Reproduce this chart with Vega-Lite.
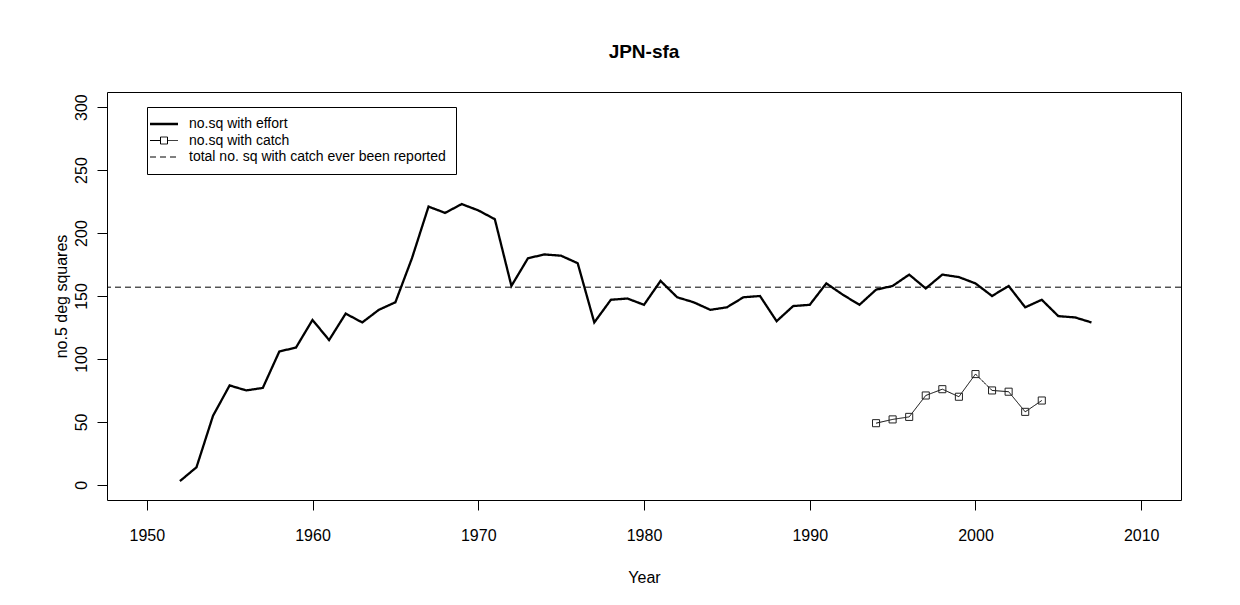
{
  "$schema": "https://vega.github.io/schema/vega-lite/v6.json",
  "width": 1074,
  "height": 408,
  "autosize": {"type": "none"},
  "padding": {"left": 107, "top": 92, "right": 59, "bottom": 105},
  "background": "white",
  "config": {
    "font": "Liberation Sans",
    "view": {"stroke": "black", "strokeWidth": 1},
    "axis": {"grid": false, "domain": false, "tickColor": "black", "tickSize": 10, "labelColor": "black", "titleColor": "black", "labelFontSize": 16, "titleFontSize": 16, "titleFontWeight": "normal"}
  },
  "title": {"text": "JPN-sfa", "fontSize": 19, "fontWeight": "bold", "color": "black", "anchor": "middle", "offset": 30},
  "datasets": {
    "d": [
      {"series": "no.sq with effort", "Year": 1952, "n": 3},
      {"series": "no.sq with effort", "Year": 1953, "n": 14},
      {"series": "no.sq with effort", "Year": 1954, "n": 55},
      {"series": "no.sq with effort", "Year": 1955, "n": 79},
      {"series": "no.sq with effort", "Year": 1956, "n": 75},
      {"series": "no.sq with effort", "Year": 1957, "n": 77},
      {"series": "no.sq with effort", "Year": 1958, "n": 106},
      {"series": "no.sq with effort", "Year": 1959, "n": 109},
      {"series": "no.sq with effort", "Year": 1960, "n": 131},
      {"series": "no.sq with effort", "Year": 1961, "n": 115},
      {"series": "no.sq with effort", "Year": 1962, "n": 136},
      {"series": "no.sq with effort", "Year": 1963, "n": 129},
      {"series": "no.sq with effort", "Year": 1964, "n": 139},
      {"series": "no.sq with effort", "Year": 1965, "n": 145},
      {"series": "no.sq with effort", "Year": 1966, "n": 180},
      {"series": "no.sq with effort", "Year": 1967, "n": 221},
      {"series": "no.sq with effort", "Year": 1968, "n": 216},
      {"series": "no.sq with effort", "Year": 1969, "n": 223},
      {"series": "no.sq with effort", "Year": 1970, "n": 218},
      {"series": "no.sq with effort", "Year": 1971, "n": 211},
      {"series": "no.sq with effort", "Year": 1972, "n": 158},
      {"series": "no.sq with effort", "Year": 1973, "n": 180},
      {"series": "no.sq with effort", "Year": 1974, "n": 183},
      {"series": "no.sq with effort", "Year": 1975, "n": 182},
      {"series": "no.sq with effort", "Year": 1976, "n": 176},
      {"series": "no.sq with effort", "Year": 1977, "n": 129},
      {"series": "no.sq with effort", "Year": 1978, "n": 147},
      {"series": "no.sq with effort", "Year": 1979, "n": 148},
      {"series": "no.sq with effort", "Year": 1980, "n": 143},
      {"series": "no.sq with effort", "Year": 1981, "n": 162},
      {"series": "no.sq with effort", "Year": 1982, "n": 149},
      {"series": "no.sq with effort", "Year": 1983, "n": 145},
      {"series": "no.sq with effort", "Year": 1984, "n": 139},
      {"series": "no.sq with effort", "Year": 1985, "n": 141},
      {"series": "no.sq with effort", "Year": 1986, "n": 149},
      {"series": "no.sq with effort", "Year": 1987, "n": 150},
      {"series": "no.sq with effort", "Year": 1988, "n": 130},
      {"series": "no.sq with effort", "Year": 1989, "n": 142},
      {"series": "no.sq with effort", "Year": 1990, "n": 143},
      {"series": "no.sq with effort", "Year": 1991, "n": 160},
      {"series": "no.sq with effort", "Year": 1992, "n": 151},
      {"series": "no.sq with effort", "Year": 1993, "n": 143},
      {"series": "no.sq with effort", "Year": 1994, "n": 155},
      {"series": "no.sq with effort", "Year": 1995, "n": 158},
      {"series": "no.sq with effort", "Year": 1996, "n": 167},
      {"series": "no.sq with effort", "Year": 1997, "n": 156},
      {"series": "no.sq with effort", "Year": 1998, "n": 167},
      {"series": "no.sq with effort", "Year": 1999, "n": 165},
      {"series": "no.sq with effort", "Year": 2000, "n": 160},
      {"series": "no.sq with effort", "Year": 2001, "n": 150},
      {"series": "no.sq with effort", "Year": 2002, "n": 158},
      {"series": "no.sq with effort", "Year": 2003, "n": 141},
      {"series": "no.sq with effort", "Year": 2004, "n": 147},
      {"series": "no.sq with effort", "Year": 2005, "n": 134},
      {"series": "no.sq with effort", "Year": 2006, "n": 133},
      {"series": "no.sq with effort", "Year": 2007, "n": 129},
      {"series": "no.sq with catch", "Year": 1994, "n": 49},
      {"series": "no.sq with catch", "Year": 1995, "n": 52},
      {"series": "no.sq with catch", "Year": 1996, "n": 54},
      {"series": "no.sq with catch", "Year": 1997, "n": 71},
      {"series": "no.sq with catch", "Year": 1998, "n": 76},
      {"series": "no.sq with catch", "Year": 1999, "n": 70},
      {"series": "no.sq with catch", "Year": 2000, "n": 88},
      {"series": "no.sq with catch", "Year": 2001, "n": 75},
      {"series": "no.sq with catch", "Year": 2002, "n": 74},
      {"series": "no.sq with catch", "Year": 2003, "n": 58},
      {"series": "no.sq with catch", "Year": 2004, "n": 67},
      {"series": "total no. sq with catch ever been reported", "n": 157}
    ]
  },
  "data": {"name": "d"},
  "encoding": {
    "x": {"field": "Year", "type": "quantitative", "scale": {"domain": [1947.6, 2012.4], "nice": false, "zero": false},
          "axis": {"values": [1950, 1960, 1970, 1980, 1990, 2000, 2010], "format": "d", "labelPadding": 17, "title": "Year", "titlePadding": 26}},
    "y": {"field": "n", "type": "quantitative", "scale": {"domain": [-12, 312], "nice": false, "zero": false},
          "axis": {"values": [0, 50, 100, 150, 200, 250, 300], "labelAngle": -90, "labelPadding": 8, "title": "no.5 deg squares", "titlePadding": 4}}
  },
  "layer": [
    {
      "transform": [{"filter": "datum.series == 'no.sq with effort'"}],
      "mark": {"type": "line", "color": "black", "strokeWidth": 2.3},
      "encoding": {
        "strokeDash": {
          "field": "series", "type": "nominal",
          "scale": {"domain": ["no.sq with effort", "no.sq with catch", "total no. sq with catch ever been reported"], "range": [[1, 0], [1, 0], [6, 4]]},
          "legend": {
            "title": null, "orient": "none", "legendX": 40, "legendY": 15,
            "strokeColor": "black", "fillColor": "white", "padding": 10,
            "labelFontSize": 14, "labelColor": "black", "labelOffset": 18, "labelLimit": 400,
            "symbolType": "stroke", "symbolSize": 784, "symbolStrokeColor": "black", "symbolOffset": 0,
            "rowPadding": 2.5,
            "encode": {
              "symbols": {
                "update": {
                  "shape": {"signal": "datum.value == 'no.sq with catch' ? 'M-1,0H-0.25M0.25,0H1M-0.25,-0.25H0.25V0.25H-0.25Z' : 'stroke'"},
                  "strokeWidth": {"signal": "datum.value == 'no.sq with effort' ? 2.3 : 1"},
                  "fill": {"value": "transparent"},
                  "stroke": {"value": "black"}
                }
              }
            }
          }
        }
      }
    },
    {
      "transform": [{"filter": "datum.series == 'total no. sq with catch ever been reported'"}],
      "mark": {"type": "rule", "color": "black", "strokeWidth": 1},
      "encoding": {
        "x": null,
        "strokeDash": {"field": "series", "type": "nominal"}
      }
    },
    {
      "transform": [{"filter": "datum.series == 'no.sq with catch'"}],
      "mark": {"type": "line", "color": "black", "strokeWidth": 1},
      "encoding": {
        "strokeDash": {"field": "series", "type": "nominal"}
      }
    },
    {
      "transform": [{"filter": "datum.series == 'no.sq with catch'"}],
      "mark": {"type": "point", "shape": "square", "filled": false, "stroke": "#222", "strokeWidth": 1, "size": 50, "opacity": 1},
      "encoding": {}
    }
  ]
}
